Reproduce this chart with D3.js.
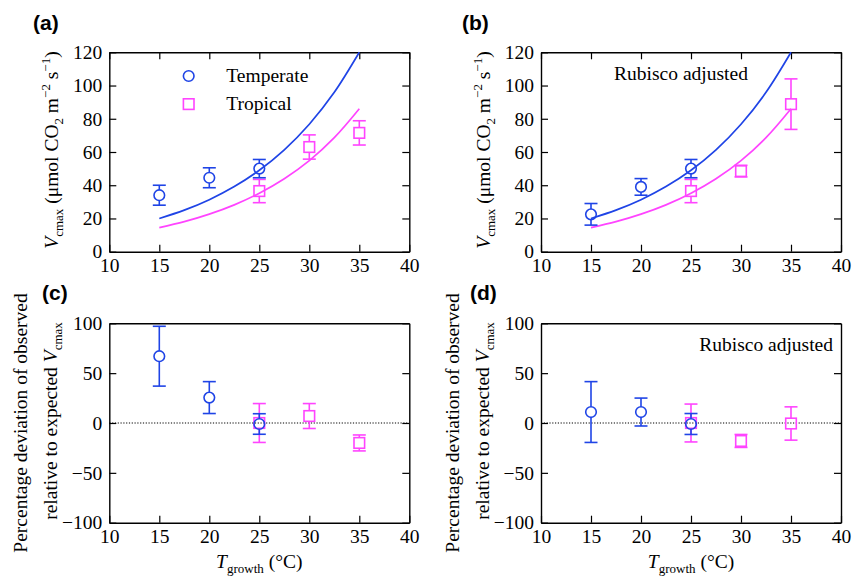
<!DOCTYPE html>
<html lang="en">
<head>
<meta charset="UTF-8">
<title>Vcmax vs growth temperature</title>
<script src="https://d3js.org/d3.v7.min.js"></script>
<style>
  body { margin: 0; background: #fff; }
  text { font-family: "Liberation Serif", "Times New Roman", serif; fill: #000; }
  .plabel { font-family: "Liberation Sans", Arial, sans-serif; font-weight: bold; font-size: 21px; }
</style>
</head>
<body>
<div id="chart"></div>
<script>
// model curves
var curveT = [15, 17.5, 20, 22.5, 25, 27.5, 30, 32.5, 35];
var expTemperate = [20, 25, 31.3, 39.2, 49, 61.3, 76.7, 95.9, 120];
var expTropical = [14.5, 18.1, 22.6, 28.2, 35.2, 43.9, 54.8, 68.6, 86];

// growth temperatures of each group
var tempT = [15, 20, 25];
var tropT = [25, 30, 35];

// (a) observed Vcmax
var aTempVal = [34, 44.5, 50], aTempErr = [6, 6, 5.5];
var aTropVal = [36.5, 63, 71.5], aTropErr = [7, 7.3, 7.3];
// (b) Rubisco adjusted
var bTempVal = [22.5, 39, 50], bTempErr = [6.5, 5, 5.5];
var bTropVal = [36.5, 48.5, 88.8], bTropErr = [7, 3.5, 15.2];
// (c) percentage deviation
var cTempVal = [67, 25.5, -1], cTempErr = [30, 16, 10.3];
var cTropVal = [0, 7, -20], cTropErr = [19.5, 12.5, 8];
// (d) percentage deviation, Rubisco adjusted
var dTempVal = [11, 11, -1], dTempErr = [30.5, 14, 10.5];
var dTropVal = [0, -18, -0.5], dTropErr = [19, 6.5, 16.7];

var xTicks = [10, 15, 20, 25, 30, 35, 40];
var vTicks = [0, 20, 40, 60, 80, 100, 120];
var pTicks = [-100, -50, 0, 50, 100];

var blue = "#1f44e6", pink = "#ff44ff";
var R = 5.3; // marker half size

var svg = d3.select("#chart").append("svg")
    .attr("width", 853).attr("height", 581);

function panel(opt) {
    var w = 300, h = 199.4;
    var g = svg.append("g").attr("transform", "translate(" + opt.left + "," + opt.top + ")");
    var x = d3.scaleLinear().domain([10, 40]).range([0, w]);
    var y = d3.scaleLinear().domain(opt.domain).range([h, 0]);

    var fmt = function(d) { return d < 0 ? "\u2212" + Math.abs(d) : d; };

    g.append("g").attr("transform", "translate(0," + h + ")")
        .call(d3.axisBottom(x).tickValues(xTicks).tickSize(-7).tickSizeOuter(0).tickPadding(6));
    g.append("g").call(d3.axisTop(x).tickValues(opt.topTicks ? xTicks : []).tickSize(-7).tickSizeOuter(0).tickFormat(""));
    g.append("g").call(d3.axisLeft(y).tickValues(opt.ticks).tickSize(-7).tickSizeOuter(0).tickPadding(7).tickFormat(fmt));
    g.append("g").attr("transform", "translate(" + w + ",0)")
        .call(d3.axisRight(y).tickValues(opt.ticks).tickSize(-7).tickSizeOuter(0).tickFormat(""));
    g.selectAll("g").attr("font-family", null).attr("font-size", null);
    g.selectAll(".domain").attr("stroke", "#000").attr("stroke-width", 1.4);
    g.selectAll(".tick line").attr("stroke", "#000").attr("stroke-width", 1.2);
    g.selectAll(".tick text")
        .style("font-family", "'Liberation Serif', 'Times New Roman', serif")
        .style("font-size", "19.5px").attr("fill", "#000");

    if (opt.zero) {
        g.append("line").attr("x1", 0).attr("x2", w).attr("y1", y(0)).attr("y2", y(0))
            .attr("stroke", "#000").attr("stroke-width", 1.1).attr("stroke-dasharray", "1.2,1.6");
    }

    if (opt.curves) {
        var line = d3.line().x(function(d) { return x(d[0]); }).y(function(d) { return y(d[1]); })
            .curve(d3.curveCatmullRom);
        g.append("path").datum(d3.zip(curveT, expTropical)).attr("d", line)
            .attr("fill", "none").attr("stroke", pink).attr("stroke-width", 1.7);
        g.append("path").datum(d3.zip(curveT, expTemperate)).attr("d", line)
            .attr("fill", "none").attr("stroke", blue).attr("stroke-width", 1.7);
    }

    function series(ts, vals, errs, color, shape) {
        var s = g.append("g").attr("stroke", color).attr("fill", "none").attr("stroke-width", 1.6);
        ts.forEach(function(t, i) {
            var cx = x(t), cy = y(vals[i]);
            var y1 = y(vals[i] + errs[i]), y2 = y(vals[i] - errs[i]);
            // whiskers stop at the marker edge
            if (y1 < cy - R) s.append("line").attr("x1", cx).attr("x2", cx).attr("y1", y1).attr("y2", cy - R);
            if (y2 > cy + R) s.append("line").attr("x1", cx).attr("x2", cx).attr("y1", cy + R).attr("y2", y2);
            s.append("line").attr("x1", cx - 6.5).attr("x2", cx + 6.5).attr("y1", y1).attr("y2", y1);
            s.append("line").attr("x1", cx - 6.5).attr("x2", cx + 6.5).attr("y1", y2).attr("y2", y2);
            if (shape === "circle") {
                s.append("circle").attr("cx", cx).attr("cy", cy).attr("r", R);
            } else {
                s.append("rect").attr("x", cx - R).attr("y", cy - R).attr("width", 2 * R).attr("height", 2 * R);
            }
        });
        return s;
    }
    series(tropT, opt.trop[0], opt.trop[1], pink, "square");
    series(tempT, opt.temp[0], opt.temp[1], blue, "circle");
    return g;
}

var pa = panel({ left: 109.3, top: 52.3, domain: [0, 120], ticks: vTicks, topTicks: true, curves: true,
    temp: [aTempVal, aTempErr], trop: [aTropVal, aTropErr] });
var pb = panel({ left: 541, top: 52.3, domain: [0, 120], ticks: vTicks, topTicks: true, curves: true,
    temp: [bTempVal, bTempErr], trop: [bTropVal, bTropErr] });
var pc = panel({ left: 109.3, top: 323.3, domain: [-100, 100], ticks: pTicks, topTicks: false, zero: true,
    temp: [cTempVal, cTempErr], trop: [cTropVal, cTropErr] });
var pd = panel({ left: 541, top: 323.3, domain: [-100, 100], ticks: pTicks, topTicks: false, zero: true,
    temp: [dTempVal, dTempErr], trop: [dTropVal, dTropErr] });

// legend in (a)
pa.append("circle").attr("cx", 79.4).attr("cy", 23.7).attr("r", R)
    .attr("fill", "none").attr("stroke", blue).attr("stroke-width", 1.6);
pa.append("text").attr("x", 117).attr("y", 30).style("font-size", "19.5px").text("Temperate");
pa.append("rect").attr("x", 79.4 - R).attr("y", 51.8 - R).attr("width", 2 * R).attr("height", 2 * R)
    .attr("fill", "none").attr("stroke", pink).attr("stroke-width", 1.6);
pa.append("text").attr("x", 117).attr("y", 58).style("font-size", "19.5px").text("Tropical");

pb.append("text").attr("x", 140).attr("y", 28).attr("text-anchor", "middle")
    .style("font-size", "19.5px").text("Rubisco adjusted");
pd.append("text").attr("x", 292).attr("y", 28).attr("text-anchor", "end")
    .style("font-size", "19.5px").text("Rubisco adjusted");

// panel letters
[["(a)", 33, 30], ["(b)", 462, 30], ["(c)", 42, 300], ["(d)", 470, 300]].forEach(function(p) {
    svg.append("text").attr("class", "plabel").attr("x", p[1]).attr("y", p[2]).text(p[0]);
});

// y titles for Vcmax panels
function vTitle(xpos) {
    var t = svg.append("text").attr("transform", "translate(" + xpos + ",150) rotate(-90)")
        .attr("text-anchor", "middle").style("font-size", "19.5px");
    t.append("tspan").style("font-style", "italic").text("V");
    t.append("tspan").style("font-size", "13px").attr("dy", 5).text("cmax");
    t.append("tspan").attr("dy", -5).text(" (\u03bcmol CO");
    t.append("tspan").style("font-size", "13px").attr("dy", 5).text("2");
    t.append("tspan").attr("dy", -5).text(" m");
    t.append("tspan").style("font-size", "13px").attr("dy", -8).text("\u22122");
    t.append("tspan").attr("dy", 8).text(" s");
    t.append("tspan").style("font-size", "13px").attr("dy", -8).text("\u22121");
    t.append("tspan").attr("dy", 8).text(")");
}
vTitle(58);
vTitle(490);

// y titles for deviation panels
function pTitle(xpos) {
    svg.append("text").attr("transform", "translate(" + xpos + ",423) rotate(-90)")
        .attr("text-anchor", "middle").style("font-size", "19.5px")
        .text("Percentage deviation of observed");
    var t = svg.append("text").attr("transform", "translate(" + (xpos + 30) + ",421) rotate(-90)")
        .attr("text-anchor", "middle").style("font-size", "19.5px");
    t.append("tspan").text("relative to expected ");
    t.append("tspan").style("font-style", "italic").text("V");
    t.append("tspan").style("font-size", "13px").attr("dy", 5).text("cmax");
}
pTitle(27);
pTitle(459);

// x titles
function xTitle(cx) {
    var t = svg.append("text").attr("x", cx).attr("y", 568).attr("text-anchor", "middle").style("font-size", "19.5px");
    t.append("tspan").style("font-style", "italic").text("T");
    t.append("tspan").style("font-size", "13px").attr("dy", 5).text("growth");
    t.append("tspan").attr("dy", -5).text(" (\u00b0C)");
}
xTitle(259.3);
xTitle(691);
</script>
</body>
</html>
